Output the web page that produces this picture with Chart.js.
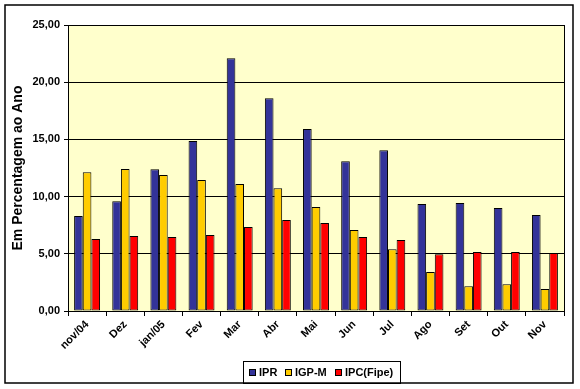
<!DOCTYPE html>
<html>
<head>
<meta charset="utf-8">
<script src="https://cdn.jsdelivr.net/npm/chart.js@4/dist/chart.umd.min.js"></script>
<style>
    html, body { margin: 0; padding: 0; background: #fff; }
    #wrap { width: 580px; height: 389px; }
</style>
</head>
<body>
<div id="wrap"><canvas id="barChart" width="580" height="389"></canvas></div>
<script>
// values (% ao ano)
const months = ["nov/04", "Dez", "jan/05", "Fev", "Mar", "Abr", "Mai", "Jun", "Jul", "Ago", "Set", "Out", "Nov"];
const ipr = [8.3, 9.6, 12.4, 14.86, 22.09, 18.59, 15.9, 13.08, 14.05, 9.35, 9.44, 9.0, 8.39];
const igpm = [12.12, 12.41, 11.89, 11.45, 11.1, 10.72, 9.09, 7.08, 5.39, 3.41, 2.16, 2.33, 1.92];
const ipcFipe = [6.29, 6.56, 6.47, 6.64, 7.34, 7.95, 7.69, 6.47, 6.2, 4.95, 5.16, 5.16, 5.07];
const seriesNames = ["IPR", "IGP-M", "IPC(Fipe)"];
const yTicks = [0, 5, 10, 15, 20, 25];

const colors = ["#333399", "#FFCC00", "#FF0000"];
const FONT = "'Liberation Sans', Arial, sans-serif";

// background, plot fill, frame, plot border and the legend box
const excelLook = {
    id: "excelLook",
    beforeDraw(chart) {
        const { ctx, chartArea: a } = chart;
        ctx.save();
        ctx.fillStyle = "#fff";
        ctx.fillRect(0, 0, chart.width, chart.height);
        ctx.fillStyle = "#FFFFCC";
        ctx.fillRect(a.left, a.top, a.right - a.left, a.bottom - a.top);
        ctx.restore();
    },
    afterDraw(chart) {
        const { ctx, chartArea: a } = chart;
        ctx.save();
        ctx.strokeStyle = "#000";
        ctx.lineWidth = 1;
        ctx.strokeRect(Math.round(a.left) + 0.5, Math.round(a.top) + 0.5,
            Math.round(a.right - a.left), Math.round(a.bottom - a.top));
        ctx.lineWidth = 1.5;
        ctx.strokeRect(5, 5, 568, 378);

        // legend
        ctx.lineWidth = 1;
        ctx.strokeRect(243.5, 361.5, 157, 22);
        ctx.font = "bold 11px " + FONT;
        ctx.textBaseline = "middle";
        const marks = [249, 285, 335];
        seriesNames.forEach((name, i) => {
            ctx.fillStyle = colors[i];
            ctx.fillRect(marks[i], 369, 7, 7);
            ctx.strokeStyle = "#000";
            ctx.strokeRect(marks[i] + 0.5, 369.5, 6, 6);
            ctx.fillStyle = "#000";
            ctx.fillText(name, marks[i] + 10, 373);
        });
        ctx.restore();
    },
};

const ctx = document.getElementById("barChart").getContext("2d");

new Chart(ctx, {
    type: "bar",
    data: {
        labels: months,
        datasets: [ipr, igpm, ipcFipe].map((vals, i) => ({
            label: seriesNames[i],
            data: vals,
            backgroundColor: colors[i],
            borderColor: "#000",
            borderWidth: 1,
            borderSkipped: false,
            categoryPercentage: 0.68,
            barPercentage: 1,
        })),
    },
    options: {
        responsive: false,
        animation: false,
        devicePixelRatio: 1,
        layout: { padding: { top: 25, right: 16, left: 0, bottom: 0 } },
        plugins: {
            legend: { display: false },
            tooltip: { enabled: false },
        },
        scales: {
            x: {
                afterFit: (scale) => { scale.height = 78; },
                grid: {
                    display: true,
                    drawOnChartArea: false,
                    drawTicks: true,
                    tickLength: 5,
                    color: "#000",
                    offset: true,
                },
                border: { display: true, color: "#000" },
                ticks: {
                    color: "#000",
                    font: { family: FONT, size: 11, weight: "bold" },
                    minRotation: 45,
                    maxRotation: 45,
                    autoSkip: false,
                    padding: 2,
                },
            },
            y: {
                min: 0,
                max: 25,
                afterFit: (scale) => { scale.width = 68; },
                afterBuildTicks: (scale) => {
                    scale.ticks = yTicks.map((v) => ({ value: v }));
                },
                grid: {
                    color: "#000",
                    lineWidth: 1,
                    tickLength: 4,
                },
                border: { display: true, color: "#000" },
                ticks: {
                    color: "#000",
                    padding: 4,
                    font: { family: FONT, size: 11, weight: "bold" },
                    callback: (v) => v.toFixed(2).replace(".", ","),
                },
                title: {
                    display: true,
                    text: "Em Percentagem ao Ano",
                    color: "#000",
                    font: { family: FONT, size: 14, weight: "bold" },
                    padding: { top: 10, bottom: 0 },
                },
            },
        },
    },
    plugins: [excelLook],
});
</script>
</body>
</html>
